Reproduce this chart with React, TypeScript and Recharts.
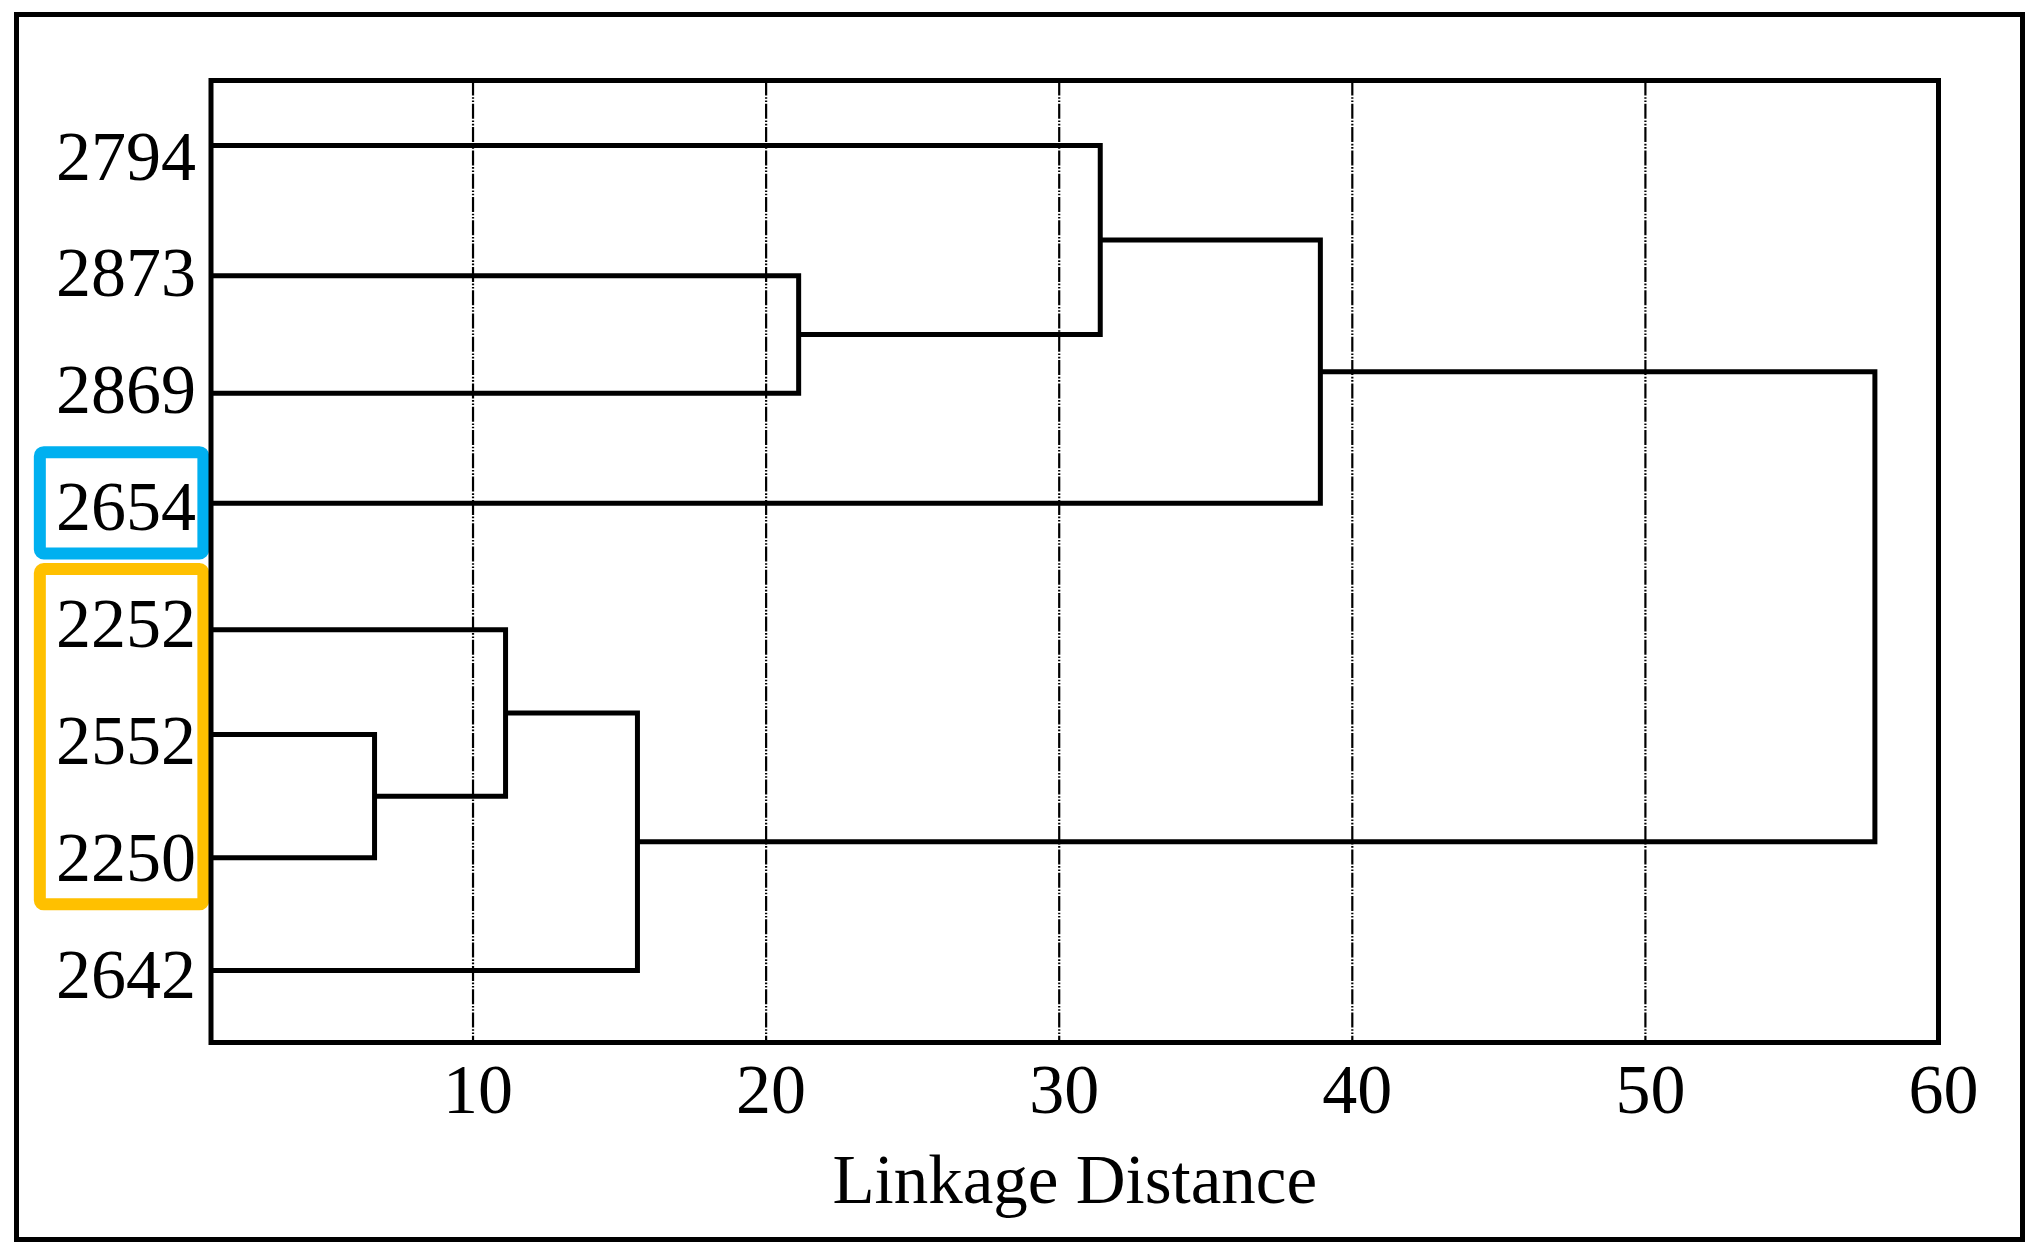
import React from "react";
import {
  LineChart,
  Line,
  XAxis,
  YAxis,
  CartesianGrid,
  ReferenceArea,
} from "recharts";

const leafLabels = ["2794", "2873", "2869", "2654", "2252", "2552", "2250", "2642"];
// label rows are 1..8, the leaf lines sit a little off them in the figure
const leafRows = [0.913, 2.026, 3.03, 3.972, 5.052, 5.948, 7.002, 7.966];

// linkage table: ids 0-7 are leaves, 8+ are the merges in this order
const mergeLeft = [5, 4, 9, 1, 0, 12, 13];
const mergeRight = [6, 8, 7, 2, 11, 3, 10];
const mergeDistance = [6.64, 11.11, 15.61, 21.11, 31.4, 38.91, 57.83];

const xTicks = [10, 20, 30, 40, 50, 60];
const rowTicks = [1, 2, 3, 4, 5, 6, 7, 8];

const highlightLabels = [["2654"], ["2252", "2552", "2250"]];
const highlightColors = ["#00B0F0", "#FFC000"];

const XMIN = 1.06;
const XMAX = 60;
const YMIN = 0.357;
const YMAX = 8.581;

const FONT = '"Liberation Serif", "Times New Roman", serif';

// walk the linkage and build one U-shaped link per merge
const nodeX: number[] = leafLabels.map(() => 0);
const nodeY: number[] = [...leafRows];
const links = mergeDistance.map((d, i) => {
  const a = mergeLeft[i];
  const b = mergeRight[i];
  const pts = [
    { x: nodeX[a], y: nodeY[a] },
    { x: d, y: nodeY[a] },
    { x: d, y: nodeY[b] },
    { x: nodeX[b], y: nodeY[b] },
  ];
  nodeX.push(d);
  nodeY.push((nodeY[a] + nodeY[b]) / 2);
  return pts;
});

const boxes = highlightLabels.map((group, i) => {
  const rows = group.map((l) => leafLabels.indexOf(l) + 1);
  return {
    y1: Math.min(...rows) - 0.466,
    y2: Math.max(...rows) + 0.4,
    color: highlightColors[i],
  };
});

function LeafTick({ x, y, payload }: any) {
  return (
    <text
      x={x - 15}
      y={y + 23.8}
      textAnchor="end"
      fill="#000"
      style={{ fontFamily: FONT, fontSize: 70 }}
    >
      {leafLabels[payload.value - 1]}
    </text>
  );
}

function DistanceTick({ x, y, payload }: any) {
  return (
    <text
      x={x + 5}
      y={y + 70}
      textAnchor="middle"
      fill="#000"
      style={{ fontFamily: FONT, fontSize: 70 }}
    >
      {payload.value}
    </text>
  );
}

export default function App() {
  return (
    <div
      style={{
        position: "absolute",
        left: 0,
        top: 0,
        width: 2030,
        height: 1250,
        background: "#fff",
      }}
    >
      <div
        style={{
          position: "absolute",
          left: 13.5,
          top: 12,
          width: 2011.5,
          height: 1230,
          boxSizing: "border-box",
          border: "5px solid #000",
        }}
      />
      <div style={{ position: "absolute", left: 0, top: 0 }}>
        <LineChart
          width={2030}
          height={1250}
          margin={{ top: 80.5, right: 91.5, bottom: 47.5, left: 0 }}
        >
          <CartesianGrid
            horizontal={false}
            stroke="#000"
            strokeWidth={2.2}
            strokeDasharray="15 1.7 1.6 1.7 1.6 1.7"
          />
          <XAxis
            dataKey="x"
            type="number"
            domain={[XMIN, XMAX]}
            ticks={xTicks}
            allowDataOverflow
            axisLine={false}
            tickLine={false}
            tickSize={0}
            tickMargin={0}
            height={160}
            tick={<DistanceTick />}
            label={{
              value: "Linkage Distance",
              position: "insideBottom",
              offset: 0,
              fill: "#000",
              fontSize: 69,
              fontFamily: FONT,
            }}
          />
          <YAxis
            type="number"
            domain={[YMIN, YMAX]}
            reversed
            ticks={rowTicks}
            allowDataOverflow
            axisLine={false}
            tickLine={false}
            tickSize={0}
            tickMargin={0}
            width={211}
            tick={<LeafTick />}
          />
          {boxes.map((b, i) => (
            <ReferenceArea
              key={"box" + i}
              x1={XMIN - 5.84}
              x2={XMIN - 0.26}
              y1={b.y1}
              y2={b.y2}
              fill="none"
              stroke={b.color}
              strokeWidth={12}
              radius={4}
              ifOverflow="visible"
            />
          ))}
          {links.map((pts, i) => (
            <Line
              key={"link" + i}
              data={pts}
              dataKey="y"
              stroke="#000"
              strokeWidth={5}
              strokeLinejoin="miter"
              strokeLinecap="butt"
              dot={false}
              activeDot={false}
              isAnimationActive={false}
            />
          ))}
          <ReferenceArea
            x1={XMIN}
            x2={XMAX}
            y1={YMIN}
            y2={YMAX}
            fill="none"
            stroke="#000"
            strokeWidth={5}
            ifOverflow="visible"
          />
        </LineChart>
      </div>
    </div>
  );
}
